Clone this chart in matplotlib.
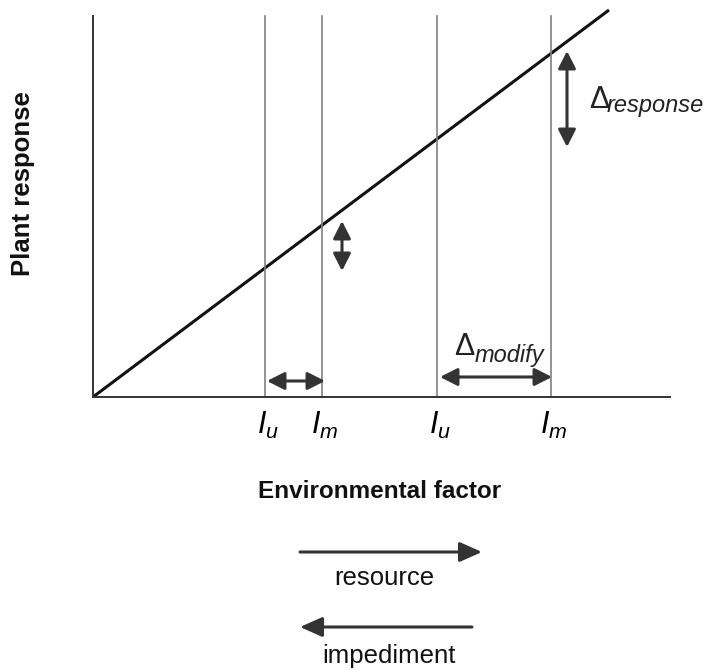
import matplotlib
matplotlib.use("Agg")
import matplotlib.pyplot as plt
import numpy as np

plt.rcParams['font.family'] = ['Liberation Sans', 'DejaVu Sans']
plt.rcParams['mathtext.fontset'] = 'custom'
plt.rcParams['mathtext.rm'] = 'Liberation Sans'
plt.rcParams['mathtext.it'] = 'Liberation Sans:italic'
plt.rcParams['mathtext.bf'] = 'Liberation Sans:bold'

# ---- data (conceptual units: environmental factor / plant response) ----
factor = np.array([0, 516])
slope = 0.75
response = slope * factor
level_x = [172, 229, 344, 458]
level_labels = ['$I_u$', '$I_m$', '$I_u$', '$I_m$']
modify_pairs = [(174, 232), (347, 459)]
modify_y = [16, 20]
response_arrows_x = [249, 474]
response_arrows_y = [(126, 176), (250, 346)]

fig = plt.figure(figsize=(7.06, 6.70), dpi=100)
ax = fig.add_axes([93/706, 273/670, 577/706, 381/670])
ax.set_xlim(0, 577)
ax.set_ylim(0, 381)
for s in ['top', 'right']:
    ax.spines[s].set_visible(False)
for s in ['left', 'bottom']:
    ax.spines[s].set_linewidth(1.4)
    ax.spines[s].set_color('#333333')
ax.set_xticks([])
ax.set_yticks([])

# main response line
ax.plot(factor, response, color='#111111', lw=2.2, clip_on=False, solid_capstyle='butt')

# vertical level lines
for x in level_x:
    ax.plot([x, x], [0, 381], color='#808080', lw=1.2, clip_on=False)

# labels under axis
for x, lab in zip(level_x, level_labels):
    ax.text(x + 3, -13, lab, fontsize=22, ha='center', va='top', clip_on=False)

arrow_kw = dict(arrowstyle='<|-|>,head_length=0.75,head_width=0.38', color='#333333',
                lw=2.2, mutation_scale=14, shrinkA=0, shrinkB=0)

# horizontal modify arrows
for (a, b), y in zip(modify_pairs, modify_y):
    ax.annotate('', xy=(b, y), xytext=(a, y), arrowprops=arrow_kw, annotation_clip=False)

# vertical response arrows
for x, (y0, y1) in zip(response_arrows_x, response_arrows_y):
    ax.annotate('', xy=(x, y1), xytext=(x, y0), arrowprops=arrow_kw, annotation_clip=False)

# delta labels: symbol + large italic subscript
ax.text(361, 42, '\u0394', fontsize=22, ha='left', va='baseline', color='#222222')
ax.text(382, 35, 'modify', fontsize=17, style='italic', ha='left', va='baseline', color='#222222')
ax.text(496, 289, '\u0394', fontsize=22, ha='left', va='baseline', color='#222222')
ax.text(514, 285, 'response', fontsize=17, style='italic', ha='left', va='baseline', color='#222222')

# axis titles
fig.text(380/706, 1 - 492/670, 'Environmental factor', fontsize=17.5, fontweight='bold',
         ha='center', va='center', color='#111111')
fig.text(23/706, 1 - 184/670, 'Plant response', fontsize=18.5, fontweight='bold',
         ha='center', va='center', rotation=90, color='#111111')

# resource / impediment legend arrows
leg_kw = dict(arrowstyle='-|>,head_length=0.9,head_width=0.4', color='#333333', lw=2.2,
              mutation_scale=15, shrinkA=0, shrinkB=0)
fig_arrows = [((300, 552), (482, 552)), ((472, 627), (300, 627))]
fig_labels = [('resource', 384, 578), ('impediment', 389, 656)]
for (p0, p1) in fig_arrows:
    ax.annotate('', xy=(p1[0]/706, 1 - p1[1]/670), xytext=(p0[0]/706, 1 - p0[1]/670),
                xycoords='figure fraction', textcoords='figure fraction',
                arrowprops=leg_kw, annotation_clip=False)
for lab, x, y in fig_labels:
    fig.text(x/706, 1 - y/670, lab, fontsize=18.5, ha='center', va='center', color='#111111')

fig.savefig('out.png', dpi=100, facecolor='white')
